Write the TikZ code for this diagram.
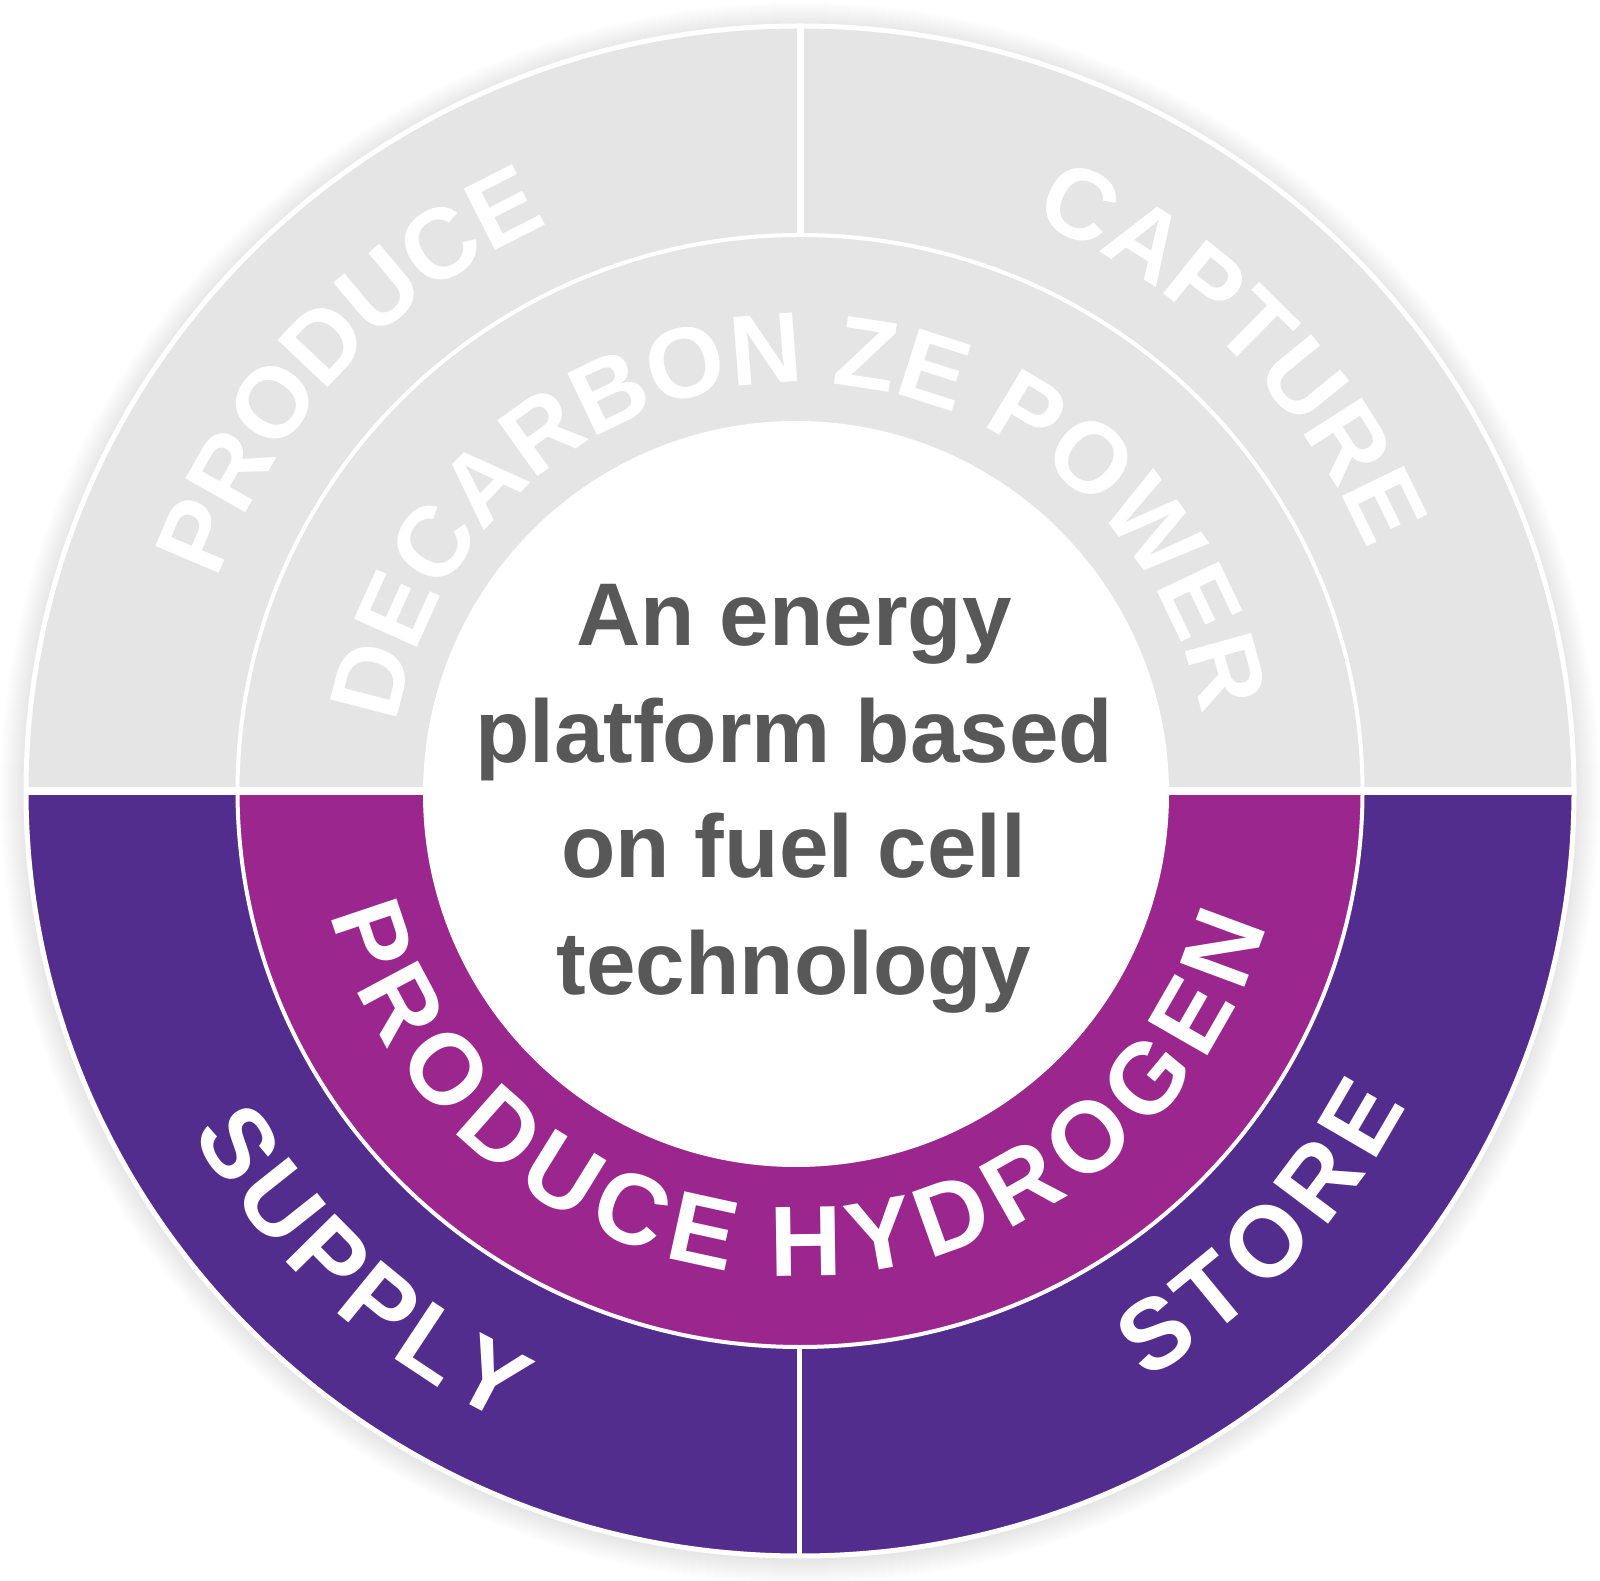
\documentclass[tikz,border=0pt]{standalone}
\usepackage{fontspec}
\setmainfont{Liberation Sans}
\usetikzlibrary{decorations.text}
\definecolor{ringgray}{HTML}{E5E5E5}
\definecolor{deeppurple}{HTML}{522D8E}
\definecolor{magentaring}{HTML}{9B268E}
\definecolor{textgray}{HTML}{585858}
\newcommand\ringfont{\fontsize{100pt}{110pt}\selectfont\bfseries}
\newcommand\corefont{\fontsize{89pt}{110pt}\selectfont\bfseries}
\begin{document}
\begin{tikzpicture}[x=1pt,y=1pt,
  ringtext/.style={decorate,decoration={text along path,text align=center,text color=white}},
  coretext/.style={anchor=base,text=textgray,font=\corefont,inner sep=0pt},
  divider/.style={white,line width=#1}]
\useasboundingbox (0,0) rectangle (1600,1580);
\fill[white] (0,0) rectangle (1600,1580);
% soft shadow
\foreach \k in {1,...,26}{
  \fill[black,opacity=0.005] (800pt,787pt) ellipse[x radius={(774+\k)*1pt},y radius={(765+\k)*1pt}];
}
\begin{scope}[shift={(800pt,789pt)}]
  % outer ring
  \fill[deeppurple] (0,0) ellipse[x radius=774pt,y radius=765pt];
  \fill[ringgray] (-774pt,0) arc[start angle=180,end angle=0,x radius=774pt,y radius=765pt] -- cycle;
  % middle ring
  \fill[magentaring] (0,0) ellipse[x radius=562.5pt,y radius=556pt];
  \fill[ringgray] (-562.5pt,0) arc[start angle=180,end angle=0,x radius=562.5pt,y radius=556pt] -- cycle;
  \draw[divider=4pt] (0,0) ellipse[x radius=562.5pt,y radius=556pt];
  \draw[divider=5pt] (0,0) ellipse[x radius=774pt,y radius=765pt];
  % dividers
  \draw[divider=8pt] (-772pt,0) -- (772pt,0);
  \draw[divider=7pt] (0,556pt) -- (0,765pt);
  \draw[divider=5pt] (-1pt,-556pt) -- (-1pt,-765pt);
  % inner disc
  \fill[white] (-4pt,-3pt) circle[radius=373pt];
  % ring texts, top (clockwise)
  \path[ringtext,decoration={text={|\ringfont|PRODUCE}}]
    (182:620pt) arc[start angle=182,end angle=92,radius=620pt];
  \path[ringtext,decoration={text={|\ringfont|CAPTURE}}]
    (90.4:616pt) arc[start angle=90.4,end angle=0.4,radius=616pt];
  \path[ringtext,decoration={text={|\ringfont|DECARBON ZE POWER}}]
    (175.6:408pt) arc[start angle=175.6,end angle=5.6,radius=408pt];
  % ring texts, bottom (counter-clockwise)
  \path[ringtext,decoration={raise=-64pt,text={|\ringfont|SUPPLY}}]
    (182.2:633pt) arc[start angle=182.2,end angle=272.2,radius=633pt];
  \path[ringtext,decoration={raise=-83pt,text={|\ringfont|STORE}}]
    (271.5:600pt) arc[start angle=271.5,end angle=361.5,radius=600pt];
  \path[ringtext,decoration={raise=-64pt,text={|\ringfont|PRODUCE HYDROGEN}}]
    (184.3:421pt) arc[start angle=184.3,end angle=354.3,radius=421pt];
\end{scope}
% centre text
\node[coretext] (line1) at (794pt,934pt) {An energy};
\node[coretext] (line2) at (794pt,817pt) {platform based};
\node[coretext] (line3) at (794pt,702pt) {on fuel cell};
\node[coretext] (line4) at (794pt,585pt) {technology};
\end{tikzpicture}
\end{document}
